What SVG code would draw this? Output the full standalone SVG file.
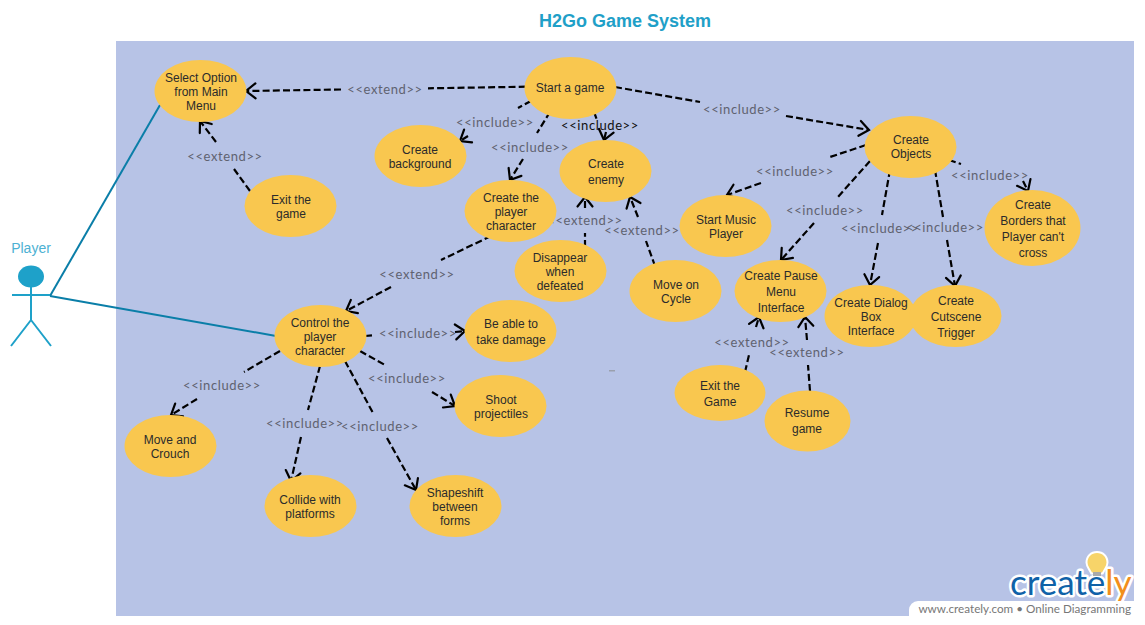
<svg xmlns="http://www.w3.org/2000/svg" width="1145" height="625" viewBox="0 0 1145 625">
<style>
.uc{fill:#f9c74f}
.t{font:12px "Liberation Sans",Arial,sans-serif;fill:#2b2b2b;text-anchor:middle}
.l{font:13px Lato,"Open Sans",sans-serif;fill:#5f6270;text-anchor:middle;letter-spacing:.6px}
.c{fill:none;stroke:#000;stroke-width:2.200;stroke-dasharray:7 3.200}
.a{fill:none;stroke:#0a7ea8;stroke-width:2}
.s{fill:none;stroke:#1ea1c9;stroke-width:2}
</style>
<defs>
<marker id="open" markerUnits="userSpaceOnUse" markerWidth="24" markerHeight="24" refX="12" refY="12" orient="auto" viewBox="0 0 24 24">
<path d="M2.500 4.500L12 12L2.500 19.500" fill="none" stroke="#000" stroke-width="2.200" stroke-linecap="round"/>
</marker>
</defs>
<rect width="1145" height="625" fill="#fff"/>
<rect x="116" y="41" width="1018" height="575" fill="#b7c3e6"/>
<text x="625" y="27" text-anchor="middle" style="font:bold 18px 'Liberation Sans',Arial,sans-serif;fill:#1fa0c8">H2Go Game System</text>

<g id="connectors">
<path class="a" d="M50 296L160 105"/>
<path class="a" d="M50 296L276 336"/>
<path class="c" d="M525.700 86.700L428 88.300"/><path class="c" marker-end="url(#open)" d="M341 89.500L246 91"/>
<path class="c" d="M250 191L234 169"/><path class="c" marker-end="url(#open)" d="M216 142L200 121"/>
<path class="c" d="M531 101L518 108"/><path class="c" marker-end="url(#open)" d="M468 136L460 141"/>
<path class="c" d="M550 112L537 133"/><path class="c" marker-end="url(#open)" d="M523 159L510 180"/>
<path class="c" d="M594 112L597 120"/><path class="c" marker-end="url(#open)" d="M606 132L604 140"/>
<path class="c" d="M615 87L700 102"/><path class="c" marker-end="url(#open)" d="M786 116L869 130"/>
<path class="c" d="M866 145L830 157"/><path class="c" marker-end="url(#open)" d="M761 183L727 195"/>
<path class="c" d="M870 161L837 198"/><path class="c" marker-end="url(#open)" d="M814 223L781 260"/>
<path class="c" d="M890 170L882 215"/><path class="c" marker-end="url(#open)" d="M878 243L870 285"/>
<path class="c" d="M935 170L943 217"/><path class="c" marker-end="url(#open)" d="M947 240L955 286"/>
<path class="c" d="M949 160L961 164"/><path class="c" marker-end="url(#open)" d="M1023 181L1028 191"/>
<path class="c" d="M491 236L441 260"/><path class="c" marker-end="url(#open)" d="M391 287L346 311"/>
<path class="c" d="M585 247L585 233"/><path class="c" marker-end="url(#open)" d="M585 208L585 197"/>
<path class="c" d="M655 266L646 241"/><path class="c" marker-end="url(#open)" d="M638 217L630 197"/>
<path class="c" d="M745 372L749 355"/><path class="c" marker-end="url(#open)" d="M756 327L759 317"/>
<path class="c" d="M810 391L808 365"/><path class="c" marker-end="url(#open)" d="M807 340L805 317"/>
<path class="c" d="M365 336L375 335"/><path class="c" marker-end="url(#open)" d="M455 332L465 331"/>
<path class="c" d="M280 351L244 372"/><path class="c" marker-end="url(#open)" d="M197 399L171 415"/>
<path class="c" d="M320 366L308 410"/><path class="c" marker-end="url(#open)" d="M301 437L291 481"/>
<path class="c" d="M345 361L373 413"/><path class="c" marker-end="url(#open)" d="M387 438L416 490"/>
<path class="c" d="M360 351L385 365"/><path class="c" marker-end="url(#open)" d="M432 392L455 406"/>
</g>

<g id="labels">
<text class="l" x="385" y="94">&lt;&lt;extend&gt;&gt;</text>
<text class="l" x="225" y="161">&lt;&lt;extend&gt;&gt;</text>
<text class="l" x="495" y="127">&lt;&lt;include&gt;&gt;</text>
<text class="l" x="530" y="152">&lt;&lt;include&gt;&gt;</text>
<text class="l" x="600" y="130" style="fill:#111">&lt;&lt;include&gt;&gt;</text>
<text class="l" x="742" y="114">&lt;&lt;include&gt;&gt;</text>
<text class="l" x="795" y="176">&lt;&lt;include&gt;&gt;</text>
<text class="l" x="825" y="215">&lt;&lt;include&gt;&gt;</text>
<text class="l" x="880" y="233">&lt;&lt;include&gt;&gt;</text>
<text class="l" x="945" y="232">&lt;&lt;include&gt;&gt;</text>
<text class="l" x="990" y="180">&lt;&lt;include&gt;&gt;</text>
<text class="l" x="417" y="279">&lt;&lt;extend&gt;&gt;</text>
<text class="l" x="585" y="225">&lt;&lt;extend&gt;&gt;</text>
<text class="l" x="642" y="235">&lt;&lt;extend&gt;&gt;</text>
<text class="l" x="752" y="347">&lt;&lt;extend&gt;&gt;</text>
<text class="l" x="807" y="357">&lt;&lt;extend&gt;&gt;</text>
<text class="l" x="418" y="338">&lt;&lt;include&gt;&gt;</text>
<text class="l" x="407" y="383">&lt;&lt;include&gt;&gt;</text>
<text class="l" x="222" y="390">&lt;&lt;include&gt;&gt;</text>
<text class="l" x="305" y="428">&lt;&lt;include&gt;&gt;</text>
<text class="l" x="380" y="431">&lt;&lt;include&gt;&gt;</text>
</g>

<g id="player">
<text x="31" y="253" text-anchor="middle" style="font:14px 'Liberation Sans',Arial,sans-serif;fill:#4db1d3">Player</text>
<ellipse cx="31" cy="276.500" rx="13" ry="11" fill="#1ea1c9"/>
<path class="s" d="M31 287V320M12 295H50M31 320L11 346M31 320L51 346"/>
</g>

<g id="n-select"><ellipse class="uc" cx="200.500" cy="91" rx="46" ry="31"/><text class="t" x="201" y="82">Select Option</text><text class="t" x="201" y="96">from Main</text><text class="t" x="201" y="110">Menu</text></g>
<g id="n-start"><ellipse class="uc" cx="570.500" cy="88" rx="46" ry="31"/><text class="t" x="570" y="92">Start a game</text></g>
<g id="n-background"><ellipse class="uc" cx="420.500" cy="156" rx="46" ry="31"/><text class="t" x="420" y="154">Create</text><text class="t" x="420" y="168">background</text></g>
<g id="n-playerchar"><ellipse class="uc" cx="510.500" cy="211" rx="46" ry="31"/><text class="t" x="511" y="202">Create the</text><text class="t" x="511" y="216">player</text><text class="t" x="511" y="230">character</text></g>
<g id="n-enemy"><ellipse class="uc" cx="605.500" cy="171" rx="46" ry="31"/><text class="t" x="606" y="168">Create</text><text class="t" x="606" y="184">enemy</text></g>
<g id="n-exit"><ellipse class="uc" cx="290.500" cy="206" rx="46" ry="31"/><text class="t" x="291" y="204">Exit the</text><text class="t" x="291" y="218">game</text></g>
<g id="n-disappear"><ellipse class="uc" cx="560.500" cy="271" rx="46" ry="31"/><text class="t" x="560" y="262">Disappear</text><text class="t" x="560" y="276">when</text><text class="t" x="560" y="290">defeated</text></g>
<g id="n-move"><ellipse class="uc" cx="675.500" cy="291" rx="46" ry="31"/><text class="t" x="676" y="289">Move on</text><text class="t" x="676" y="303">Cycle</text></g>
<g id="n-music"><ellipse class="uc" cx="725.500" cy="226" rx="46" ry="31"/><text class="t" x="726" y="224">Start Music</text><text class="t" x="726" y="238">Player</text></g>
<g id="n-objects"><ellipse class="uc" cx="910.500" cy="147" rx="46" ry="31"/><text class="t" x="911" y="144">Create</text><text class="t" x="911" y="158">Objects</text></g>
<g id="n-borders"><ellipse class="uc" cx="1032.500" cy="228" rx="48" ry="38"/><text class="t" x="1033" y="209">Create</text><text class="t" x="1033" y="225">Borders that</text><text class="t" x="1033" y="241">Player can't</text><text class="t" x="1033" y="257">cross</text></g>
<g id="n-pause"><ellipse class="uc" cx="780.500" cy="291" rx="46" ry="31"/><text class="t" x="781" y="280">Create Pause</text><text class="t" x="781" y="296">Menu</text><text class="t" x="781" y="312">Interface</text></g>
<g id="n-dialog"><ellipse class="uc" cx="870.500" cy="316" rx="46" ry="31"/><text class="t" x="871" y="307">Create Dialog</text><text class="t" x="871" y="321">Box</text><text class="t" x="871" y="335">Interface</text></g>
<g id="n-cutscene"><ellipse class="uc" cx="955.500" cy="316" rx="46" ry="31"/><text class="t" x="956" y="305">Create</text><text class="t" x="956" y="321">Cutscene</text><text class="t" x="956" y="337">Trigger</text></g>
<g id="n-exitgame"><ellipse class="uc" cx="720" cy="393" rx="45.500" ry="28"/><text class="t" x="720" y="390">Exit the</text><text class="t" x="720" y="406">Game</text></g>
<g id="n-resume"><ellipse class="uc" cx="807.500" cy="421" rx="43" ry="30.500"/><text class="t" x="807" y="417">Resume</text><text class="t" x="807" y="433">game</text></g>
<g id="n-control"><ellipse class="uc" cx="320.500" cy="336" rx="46" ry="31"/><text class="t" x="320" y="327">Control the</text><text class="t" x="320" y="341">player</text><text class="t" x="320" y="355">character</text></g>
<g id="n-damage"><ellipse class="uc" cx="510.500" cy="331" rx="46" ry="31"/><text class="t" x="511" y="328">Be able to</text><text class="t" x="511" y="344">take damage</text></g>
<g id="n-shoot"><ellipse class="uc" cx="500.500" cy="406" rx="46" ry="31"/><text class="t" x="501" y="404">Shoot</text><text class="t" x="501" y="418">projectiles</text></g>
<g id="n-crouch"><ellipse class="uc" cx="170.500" cy="446" rx="46" ry="31"/><text class="t" x="170" y="444">Move and</text><text class="t" x="170" y="458">Crouch</text></g>
<g id="n-collide"><ellipse class="uc" cx="310.500" cy="506" rx="46" ry="31"/><text class="t" x="310" y="504">Collide with</text><text class="t" x="310" y="518">platforms</text></g>
<g id="n-shapeshift"><ellipse class="uc" cx="455.500" cy="506" rx="46" ry="31"/><text class="t" x="455" y="497">Shapeshift</text><text class="t" x="455" y="511">between</text><text class="t" x="455" y="525">forms</text></g>

<rect x="609" y="370" width="6" height="1.500" fill="#9aa0ad"/>

<g id="logo">
<rect x="909" y="601" width="236" height="24" rx="9" fill="#fff"/>
<rect x="1134" y="590" width="11" height="35" fill="#fff"/>
<rect x="909" y="616" width="236" height="9" fill="#fff"/>
<text x="1010" y="595" style="font:35px Lato,'Open Sans',sans-serif;fill:#0f62a8;stroke:#fff;stroke-width:5;paint-order:stroke;stroke-linejoin:round">create<tspan style="fill:#f28f1c">ly</tspan></text>
<path d="M1097 553c-5.500 0-9.500 4-9.500 9.500 0 3.500 2.500 6 4.500 10h10c2-4 4.500-6.500 4.500-10 0-5.500-4-9.500-9.500-9.500z" fill="#f7d469" stroke="#fff" stroke-width="4" paint-order="stroke"/>
<rect x="1093" y="572" width="8" height="4" fill="#aaa"/>
<text x="1131" y="613" text-anchor="end" style="font:11.700px Lato,'Open Sans',sans-serif;fill:#777">www.creately.com • Online Diagramming</text>
</g>
</svg>
